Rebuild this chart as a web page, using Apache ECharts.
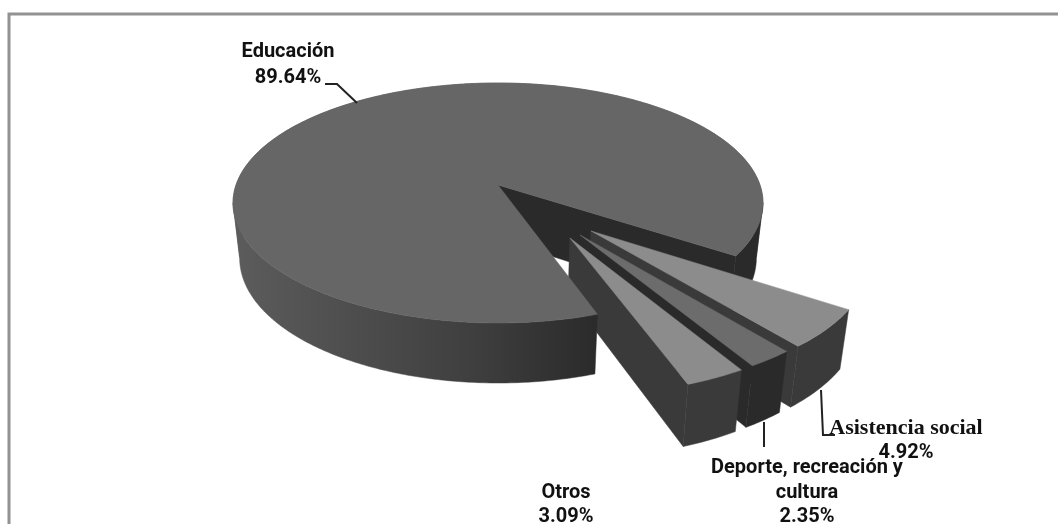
<!DOCTYPE html>
<html>
<head>
<meta charset="utf-8">
<style>html,body{margin:0;padding:0;background:#fff}#c{width:1058px;height:524px}</style>
<script src="https://cdn.jsdelivr.net/npm/echarts@6/dist/echarts.min.js"></script>
</head>
<body>
<div id="c"></div>
<script>
// ---- data ----
const categories = ['Educación', 'Asistencia social', 'Deporte, recreación y\ncultura', 'Otros'];
const shares = [89.64, 4.92, 2.35, 3.09];

// ---- look ----
const firstAngle = 379;               // degrees, measured from "towards viewer" on the pie's plane
const topColors = ['#666666', '#8c8c8c', '#6c6c6c', '#8c8c8c'];
const wallColors = ['#2a2a2a', '#3a3a3a', '#2a2a2a', '#3a3a3a'];
const explodeSide = [0, 0.335, 0.294, 0.257];
const explodeFront = [0, 0.370, 0.400, 0.423];
const radiusScale = [1, 0.985, 0.985, 0.985];
const view = {cx: 498, cy: 185, rx: 262, ry: 117.3, persp: 0.15, baseShrink: 0.975, hBase: 54, hFront: 6};
const labelBoxes = [
  {pos: [[288, 52], [288, 78]]},
  {pos: [[906, 428], [906, 453]], serifName: true},
  {pos: [[807, 468], [807, 493], [807, 517]]},
  {pos: [[566, 493], [566, 517]]}
];
const leaders = [
  [[325, 84], [337, 84], [357, 103]],
  [[821, 390], [823, 435], [835, 435]],
  [[764, 422], [764, 447]],
  null
];
const sansFont = 'bold 20px Roboto, sans-serif';
const serifFont = 'bold 22px "Liberation Serif", serif';

const rad = d => d * Math.PI / 180;
function top3d(s, f) {
  const w = 1 / (1 - view.persp * f);
  return [view.cx + view.rx * s * w, view.cy + view.ry * f * w];
}
function base3d(s, f) {
  const p = top3d(s, f);
  return [view.cx + (p[0] - view.cx) * view.baseShrink, p[1] + view.hBase + view.hFront * f];
}

const total = shares.reduce((a, b) => a + b, 0);
const startAngles = [];
shares.reduce((acc, v, i) => { startAngles[i] = acc; return acc - v / total * 360; }, firstAngle);

function renderSlice(params, api) {
  const i = params.dataIndex;
  const from = startAngles[i];
  const sweep = api.value(0) / total * 360;
  const to = from - sweep;
  const ox = explodeSide[i], of = explodeFront[i], r = radiusScale[i];
  const steps = Math.max(12, Math.ceil(sweep * 1.5));
  const arc = [];
  for (let k = 0; k <= steps; k++) {
    const a = rad(from + (to - from) * k / steps);
    arc.push([ox + r * Math.sin(a), of + r * Math.cos(a)]);
  }
  const topArc = arc.map(q => top3d(q[0], q[1]));
  const baseArc = arc.map(q => base3d(q[0], q[1]));
  const children = [];
  const front = i === 0
    ? new echarts.graphic.LinearGradient(233, 0, 600, 0, [
        {offset: 0, color: '#5c5c5c'},
        {offset: 0.65, color: '#3f3f3f'},
        {offset: 1, color: '#2a2a2a'}
      ], true)
    : wallColors[i];
  // The big slice's front overlaps the tips of the pulled-out slices; its far walls lie behind them.
  const zFar = i === 0 ? 1 : 5 + i;
  const zNear = i === 0 ? 20 : 5 + i;
  // rounded outer wall, split at the silhouette so the band never folds over itself
  const xs = topArc.map(p => p[0]);
  const cuts = [0, xs.indexOf(Math.min(...xs)), xs.indexOf(Math.max(...xs)), topArc.length - 1]
    .filter((v, n, all) => all.indexOf(v) === n).sort((a, b) => a - b);
  for (let c = 0; c < cuts.length - 1; c++) {
    const upper = topArc.slice(cuts[c], cuts[c + 1] + 1);
    const lower = baseArc.slice(cuts[c], cuts[c + 1] + 1).reverse();
    const fill = c === 0 ? front : wallColors[i];
    const isFront = c === 0;
    children.push({
      type: 'polygon', z2: isFront ? zNear : zFar,
      shape: {points: upper.concat(lower)},
      style: {fill: (i === 0 && c === 1) ? '#5c5c5c' : fill, stroke: (i === 0 && c === 1) ? '#5c5c5c' : fill, lineWidth: 0.5}
    });
  }
  // flat wall along the cut edge that faces the viewer
  const apexT = top3d(ox, of), apexB = base3d(ox, of);
  const e = arc.length - 1;
  children.push({type: 'polygon', z2: zFar, shape: {points: [apexT, topArc[e], baseArc[e], apexB]}, style: {fill: wallColors[i], stroke: wallColors[i], lineWidth: 0.5}});
  // top face
  children.push({type: 'polygon', z2: zNear + 1, shape: {points: [apexT].concat(topArc)}, style: {fill: topColors[i], stroke: topColors[i], lineWidth: 0.5}});
  return {type: 'group', children};
}

function renderLabels(params, api) {
  const i = params.dataIndex;
  const box = labelBoxes[i];
  const lines = categories[i].split('\n').concat(api.value(0).toFixed(2) + '%');
  const kids = lines.map((t, n) => ({
    type: 'text', z2: 50,
    style: {
      x: box.pos[n][0], y: box.pos[n][1], text: t, fill: '#111',
      align: 'center', verticalAlign: 'middle',
      font: (box.serifName && n < lines.length - 1) ? serifFont : sansFont
    }
  }));
  if (leaders[i]) kids.unshift({type: 'polyline', z2: 40, shape: {points: leaders[i]}, style: {stroke: '#222', lineWidth: 2, fill: null}});
  return {type: 'group', children: kids};
}

const chart = echarts.init(document.getElementById('c'), null, {renderer: 'canvas'});
chart.setOption({
  animation: false,
  backgroundColor: '#fff',
  graphic: [{type: 'polyline', shape: {points: [[9, 532], [9, 14], [1060, 14]]}, style: {stroke: '#929292', lineWidth: 3, fill: null}, silent: true}],
  series: [
    {type: 'custom', coordinateSystem: 'none', silent: true, renderItem: renderSlice, data: shares.map(v => [v]), z: 2},
    {type: 'custom', coordinateSystem: 'none', silent: true, renderItem: renderLabels, data: shares.map(v => [v]), z: 3}
  ]
});
</script>
</body>
</html>
